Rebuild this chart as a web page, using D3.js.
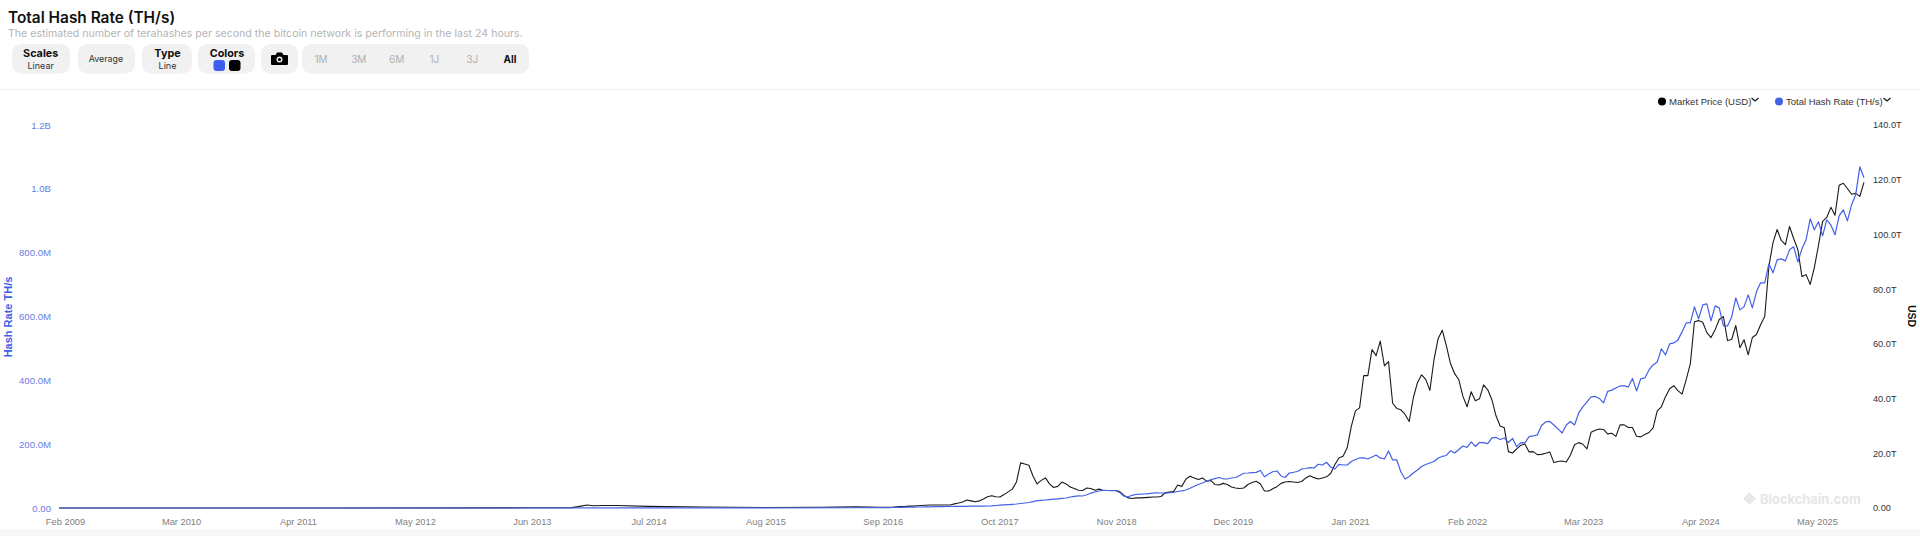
<!DOCTYPE html>
<html><head><meta charset="utf-8">
<script src="https://cdn.jsdelivr.net/npm/d3@7/dist/d3.min.js"></script>
<style>
html,body{margin:0;padding:0;background:#fff;overflow:hidden}
svg{display:block}
svg{font-family:Inter,"Noto Sans",sans-serif}
.domain,.tick line{display:none}
</style></head><body>
<svg id="c" width="1920" height="536"></svg>
<script>
const xTickLabels = ["Feb 2009","Mar 2010","Apr 2011","May 2012","Jun 2013","Jul 2014","Aug 2015","Sep 2016","Oct 2017","Nov 2018","Dec 2019","Jan 2021","Feb 2022","Mar 2023","Apr 2024","May 2025"];
const hashTicks = [0,200,400,600,800,1000,1200];       // million TH/s
const priceTicks = [0,20,40,60,80,100,120,140];        // trillion USD
const rangeLabels = ["1M","3M","6M","1J","3J","All"];

// sparse early history
const earlyPriceDates = ["2009-01-12","2011-06-01","2013-03-01","2013-06-01","2013-10-15","2013-11-15","2013-12-05","2013-12-25","2014-02-01","2014-03-15","2014-07-01","2015-01-01","2015-08-01","2016-02-01","2016-06-01"];
const earlyPriceValues = [0,0.02,0.05,0.08,0.15,0.7,1.1,0.85,0.9,0.9,0.6,0.35,0.2,0.3,0.4];
const earlyHashDates = ["2009-01-12","2013-01-01","2014-06-01","2015-06-01","2016-06-01"];
const earlyHashValues = [0,0.01,0.1,0.4,0.8];

// every 14 days from recentStart
const recentStart = "2016-08-23";
const recentStepDays = 14;
const priceValues = [0.3,0.3,0.3,0.3,0.4,0.5,0.5,0.7,0.7,0.8,0.9,1.0,1.1,1.1,1.1,1.1,1.1,1.1,1.5,1.8,2.2,2.9,2.6,2.3,2.6,3.3,4.1,4.5,4.1,4.0,4.9,5.9,6.9,9.5,16.5,16.1,15.6,11.7,8.8,10.1,11.0,8.8,7.5,7.9,9.5,8.8,7.7,7.1,6.5,6.4,7.3,7.1,6.5,6.9,6.4,6.4,6.4,6.4,6.0,4.6,3.7,3.5,3.7,3.7,3.8,3.9,4.0,4.0,4.2,5.6,5.8,6.0,8.4,7.9,10.6,11.6,11.0,10.4,11.0,9.8,10.1,8.6,8.4,9.0,8.6,7.7,7.3,7.1,7.3,8.6,9.3,9.8,8.8,6.2,6.2,7.0,7.8,9.0,9.5,9.7,9.5,9.3,9.7,11.0,11.8,11.1,10.6,11.0,11.4,12.6,15.8,18.3,18.9,22.0,29.8,35.5,36.6,48.4,48.4,57.9,55.7,61.0,52.0,53.5,38.3,36.4,35.9,34.2,31.6,40.3,45.8,48.7,47.0,43.0,54.2,61.9,65.0,59.3,52.7,49.1,46.9,40.8,37.0,42.5,39.2,39.9,45.0,43.2,39.6,33.7,30.0,29.3,20.6,20.1,21.6,22.9,23.4,20.5,20.6,19.5,19.6,20.0,20.5,16.6,17.0,17.2,16.8,19.4,23.1,23.9,23.3,21.6,27.7,28.4,28.9,28.7,27.1,27.3,26.2,30.4,30.4,29.4,29.4,26.2,26.0,26.9,27.6,29.3,35.5,37.0,40.7,43.6,44.7,42.9,41.6,46.9,52.7,68.1,68.5,67.9,64.1,62.3,65.2,68.9,70.0,61.2,61.6,66.7,58.6,61.5,56.0,62.3,63.4,67.0,70.0,88.3,97.0,101.8,97.8,96.3,102.9,98.5,94.5,84.6,85.3,81.7,87.9,96.0,104.8,106.2,109.9,107.0,118.0,118.7,116.8,114.7,115.0,113.9,119.0];
const hashValues = [1,1.3,1.3,1.6,1.9,2.2,2.5,2.5,2.8,3.1,3.1,3.4,3.8,4.1,4.4,4.4,4.7,4.7,5,5,5.3,5.3,5.6,5.6,6,6,6.3,6.9,7.8,8.8,9.7,10.7,11.6,12.5,14.1,15.7,17.2,20.1,22.9,24.1,25.1,26.3,27.6,28.8,30.1,31.4,34.5,36.7,38.2,37.6,41.4,46.4,50.2,53.3,55.2,54.9,54.6,54.2,48.6,37,35.1,39.8,43,43.3,43.9,45.1,46.4,47.7,47,46.7,47.7,49.2,51.7,53.9,56.4,62,68.3,73.7,78.4,84.6,88.4,91.9,95.6,91.5,90.9,94,95.6,101.9,108.8,109.7,111,111.6,117.6,97.8,106.6,113.5,116,100.3,95.6,109.7,111.9,114.4,122.3,123.8,126.3,125.4,137,134.8,143.3,128.5,122,136.4,134.8,134.8,145.8,152,156.8,156.8,153.6,160,166,156.8,153.6,178.7,150.5,150.5,112.9,90.9,98.8,109.7,119,130,136.4,141,145.8,156.8,161.5,164.6,179.6,172.4,183.4,194.4,189.7,206.9,192.8,205.3,204.7,201.6,219.5,221,214.7,219.5,205.3,217.9,192.2,204.7,203.8,223.5,225.7,228.9,258.6,269.6,271.2,260.2,247.7,235,260.2,271.2,260.2,297.8,316.6,332.3,348,349.6,343.3,329.2,365.2,369.3,376.2,382.5,382.5,379.3,406,366.8,404.4,407.6,432.6,448.3,457.7,498.5,479.7,514.1,517.3,526.7,551.8,580,580,630.1,592.5,636.4,639.5,586.2,633.3,627,570.6,570.6,598.8,658.4,620.7,631,667.8,627,677.2,705.4,705.4,765,736.7,777.5,780.6,774.3,808.8,818.2,771.2,812,840.2,906,871.5,896.6,852.7,902.9,887,855.9,915.4,934.2,899.7,949.9,981.3,1069,1034.6];

const parseDay = d3.timeParse("%Y-%m-%d");
const parseTick = d3.timeParse("%b %Y");
const fmtTick = d3.timeFormat("%b %Y");
const start = parseDay(recentStart);
const series = (dates, early, recent) => [
  ...dates.map((d,i)=>({date:parseDay(d),value:early[i]})),
  ...recent.map((v,i)=>({date:d3.timeDay.offset(start,i*recentStepDays),value:v}))
];
const priceData = series(earlyPriceDates, earlyPriceValues, priceValues);
const hashData = series(earlyHashDates, earlyHashValues, hashValues);

const BLUE="#4460e6", SANS='"Liberation Sans",Arial,sans-serif', svg=d3.select("#c");
const x=d3.scaleTime().domain([parseTick("Feb 2009"),parseTick("May 2025")]).range([65,1817]);
const yHash=d3.scaleLinear().domain([0,1200]).range([508,125]);
const yPrice=d3.scaleLinear().domain([0,140]).range([508,125]);

// page chrome
svg.append("text").attr("x",8).attr("y",23).style("font-family","Inter").attr("font-size",15.4).attr("font-weight",600).attr("fill","#111").text("Total Hash Rate (TH/s)");
svg.append("text").attr("x",8).attr("y",37).style("font-family","Inter").attr("font-size",10.6).attr("fill","#b4b4b4").text("The estimated number of terahashes per second the bitcoin network is performing in the last 24 hours.");
const btn=(x0,x1)=>svg.append("rect").attr("x",x0).attr("y",44).attr("width",x1-x0).attr("height",29.5).attr("rx",9).attr("fill","#f1f1f1");
[[12,70],[78,135],[142,192],[198,255],[261,298],[302,529]].forEach(b=>btn(b[0],b[1]));
const label=(t,cx,cy,size,weight,fill)=>svg.append("text").attr("x",cx).attr("y",cy).style("font-family","Inter").attr("text-anchor","middle").attr("font-size",size).attr("font-weight",weight).attr("fill",fill).text(t);
label("Scales",40.7,57,10.8,700,"#111");label("Linear",40.7,69,9,400,"#333");
label("Average",106,62.3,8.9,400,"#333");
label("Type",167.5,57,10.8,700,"#111");label("Line",167.5,69,9,400,"#333");
label("Colors",227,57,10.8,700,"#111");
svg.append("rect").attr("x",213.5).attr("y",60).attr("width",11.5).attr("height",11).attr("rx",3).attr("fill","#3f5ef0");
svg.append("rect").attr("x",229).attr("y",60).attr("width",11.5).attr("height",11).attr("rx",3).attr("fill","#000");
const cam=svg.append("g").attr("transform","translate(19,0)");
cam.append("path").attr("d","M253 55h3.5l1.5-2.5h5l1.5 2.5h3.5a1 1 0 0 1 1 1v8a1 1 0 0 1-1 1h-15a1 1 0 0 1-1-1v-8a1 1 0 0 1 1-1z").attr("fill","#000");
cam.append("circle").attr("cx",260.5).attr("cy",59.5).attr("r",3).attr("fill","#f1f1f1");
cam.append("circle").attr("cx",260.5).attr("cy",59.5).attr("r",1.6).attr("fill","#000");
rangeLabels.forEach((t,i)=>{const all=t==="All";label(t,321+37.8*i,62.5,10,all?700:400,all?"#111":"#b0b0b0");});
svg.append("rect").attr("x",0).attr("y",89).attr("width",1920).attr("height",1).attr("fill","#f0f0f0");
svg.append("rect").attr("x",0).attr("y",529).attr("width",1920).attr("height",7).attr("fill","#f8f8f8");

// axes
const fmtHash=d=>d===0?"0.00":d>=1000?(d/1000).toFixed(1)+"B":d.toFixed(1)+"M";
const fmtPrice=d=>d===0?"0.00":d.toFixed(1)+"T";
const axL=svg.append("g").attr("transform","translate(51,0)").call(d3.axisLeft(yHash).tickValues(hashTicks).tickFormat(fmtHash).tickSize(0).tickPadding(0));
axL.selectAll("text").style("font-family",SANS).style("font-size","9.6px").attr("fill","#6a7ce4");
const axR=svg.append("g").attr("transform","translate(1873,0)").call(d3.axisRight(yPrice).tickValues(priceTicks).tickFormat(fmtPrice).tickSize(0).tickPadding(0));
axR.selectAll("text").style("font-family",SANS).style("font-size","9.2px").attr("fill","#333");
const axB=svg.append("g").attr("transform","translate(0,518.5)").call(d3.axisBottom(x).tickValues(xTickLabels.map(parseTick)).tickFormat(fmtTick).tickSize(0).tickPadding(0));
axB.selectAll("text").style("font-family",SANS).style("font-size","9.3px").attr("fill","#808080");
svg.append("text").attr("transform","translate(12,317) rotate(-90)").attr("text-anchor","middle").style("font-family",SANS).attr("font-size",11).attr("font-weight",700).attr("fill",BLUE).text("Hash Rate TH/s");
svg.append("text").attr("transform","translate(1908,316) rotate(90)").attr("text-anchor","middle").style("font-family",SANS).attr("font-size",10.5).attr("font-weight",700).attr("fill","#111").text("USD");

// watermark
svg.append("path").attr("d","M1743 498.5l6.5-6.5 6.5 6.5-6.5 6.5z").attr("fill","#e8e8e8");
svg.append("text").attr("x",1760).attr("y",503.5).style("font-family","Inter").attr("font-size",12.9).attr("font-weight",700).attr("fill","#e6e6e6").text("Blockchain.com");

// lines
const line=(y)=>d3.line().x(d=>x(d.date)).y(d=>y(d.value));
svg.append("path").datum(priceData).attr("d",line(yPrice)).attr("fill","none").attr("stroke","#1a1a1a").attr("stroke-width",1.1).attr("stroke-linejoin","round");
svg.append("path").datum(hashData).attr("d",line(yHash)).attr("fill","none").attr("stroke",BLUE).attr("stroke-width",1.2).attr("stroke-linejoin","round");

// legend
const legend=[{t:"Market Price (USD)",c:"#000",dot:1662,tx:1669,chev:1755},{t:"Total Hash Rate (TH/s)",c:BLUE,dot:1779,tx:1786,chev:1887}];
legend.forEach(l=>{
  svg.append("circle").attr("cx",l.dot).attr("cy",101.5).attr("r",4).attr("fill",l.c);
  svg.append("text").attr("x",l.tx).attr("y",104.8).style("font-family",SANS).attr("font-size",9.5).attr("fill","#333").text(l.t);
  svg.append("path").attr("d",`M${l.chev-3.5} 98l3.5 3 3.5-3`).attr("fill","none").attr("stroke","#111").attr("stroke-width",1.2);
});
</script></body></html>
